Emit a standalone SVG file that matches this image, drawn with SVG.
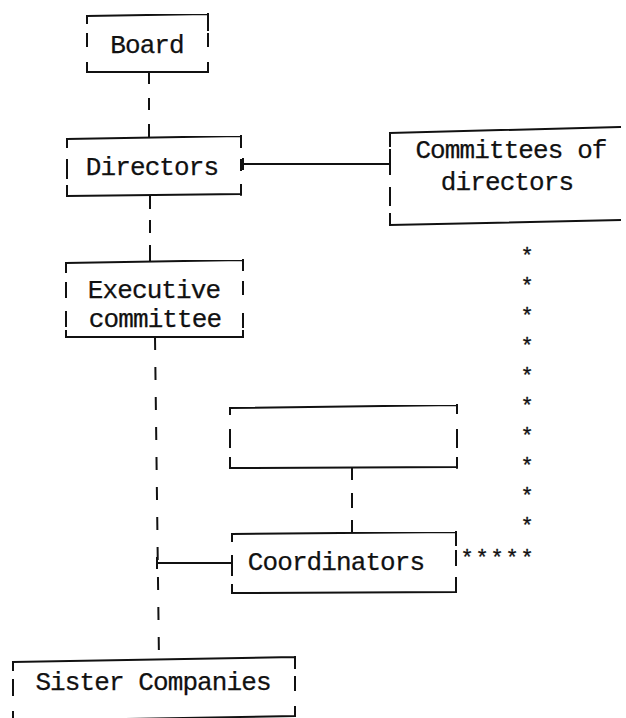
<svg xmlns="http://www.w3.org/2000/svg" width="626" height="718" viewBox="0 0 626 718">
<style>
.bx{fill:none;stroke:#111;stroke-width:2;stroke-linecap:square}
.cn{fill:none;stroke:#111;stroke-width:2}
.t{font-family:"Liberation Mono","DejaVu Sans Mono",monospace;font-size:26px;letter-spacing:-0.9px;fill:#111;stroke:#111;stroke-width:0.25;text-anchor:middle}
.ast{font-family:"Liberation Mono","DejaVu Sans Mono",monospace;font-size:22px;fill:#111;stroke:#111;stroke-width:0.3;text-anchor:middle}
</style>
<rect width="626" height="718" fill="#fff"/>
<g id="connectors">
<path class="cn" d="M149,72 V84 M149,98 V110 M149,124 V137"/>
<path class="cn" d="M243,158 V170 M243,164 H390"/>
<path class="cn" d="M150,196 V209 M150,220 V233 M150,245 V261"/>
<path class="cn" d="M155,337 L159,661" stroke-dasharray="13 17"/>
<path class="cn" d="M157,557 V569 M157,563 H232"/>
<path class="cn" d="M352,468 V480 M352,493 V508 M352,520 V533"/>
</g>
<g id="board">
<path class="bx" d="M87,16 L208,14 M87,16 V23 M208,14 V30 M87,34 V46 M208,34 V46 M87,63 V72 M208,63 V72 M87,72 L208,72"/>
<text class="t" x="147" y="53">Board</text>
</g>
<g id="directors">
<path class="bx" d="M67,139 L241,136 M67,139 V147 M67,160 V178 M67,186 V196 M241,136 V147 M241,160 V170 M241,185 V195 M67,196 L241,194"/>
<text class="t" x="152" y="175">Directors</text>
</g>
<g id="committees">
<path class="bx" d="M390,133 L620,127 M390,133 V146 M390,150 V174 M390,188 V205 M390,214 V225 M390,225 L620,220"/>
<text class="t" x="511" y="158">Committees of</text>
<text class="t" x="507" y="190">directors</text>
</g>
<g id="executive">
<path class="bx" d="M66,263 L243,260 M66,263 V272 M66,283 V297 M66,312 V326 M66,331 V337 M243,260 V270 M243,282 V294 M243,314 V327 M243,331 V337 M66,337 L243,337"/>
<text class="t" x="154" y="298">Executive</text>
<text class="t" x="155" y="327">committee</text>
</g>
<g id="blank">
<path class="bx" d="M230,408 L457,405 M230,408 V414 M230,430 V447 M230,458 V468 M457,405 V413 M457,430 V447 M457,458 V468 M230,468 L457,467"/>
</g>
<g id="coordinators">
<path class="bx" d="M232,534 L456,532 M232,534 V541 M232,556 V575 M232,585 V593 M456,532 V545 M456,551 V565 M456,578 V592 M232,593 L456,592"/>
<text class="t" x="336" y="570">Coordinators</text>
</g>
<g id="asterisks">
<text class="ast" x="527" y="263">*</text>
<text class="ast" x="527" y="293">*</text>
<text class="ast" x="527" y="323">*</text>
<text class="ast" x="527" y="353">*</text>
<text class="ast" x="527" y="383">*</text>
<text class="ast" x="527" y="413">*</text>
<text class="ast" x="527" y="443">*</text>
<text class="ast" x="527" y="473">*</text>
<text class="ast" x="527" y="503">*</text>
<text class="ast" x="527" y="533">*</text>
<text class="ast" x="467" y="565">*</text>
<text class="ast" x="482" y="565">*</text>
<text class="ast" x="497" y="565">*</text>
<text class="ast" x="512" y="565">*</text>
<text class="ast" x="527" y="565">*</text>
</g>
<g id="sister">
<path class="bx" d="M13,662 L295,657 M13,662 V670 M13,680 V695 M13,712 V718 M295,657 V668 M295,677 V690 M295,707 V716 M13,721 L295,716"/>
<text class="t" x="153" y="690">Sister Companies</text>
</g>
</svg>
